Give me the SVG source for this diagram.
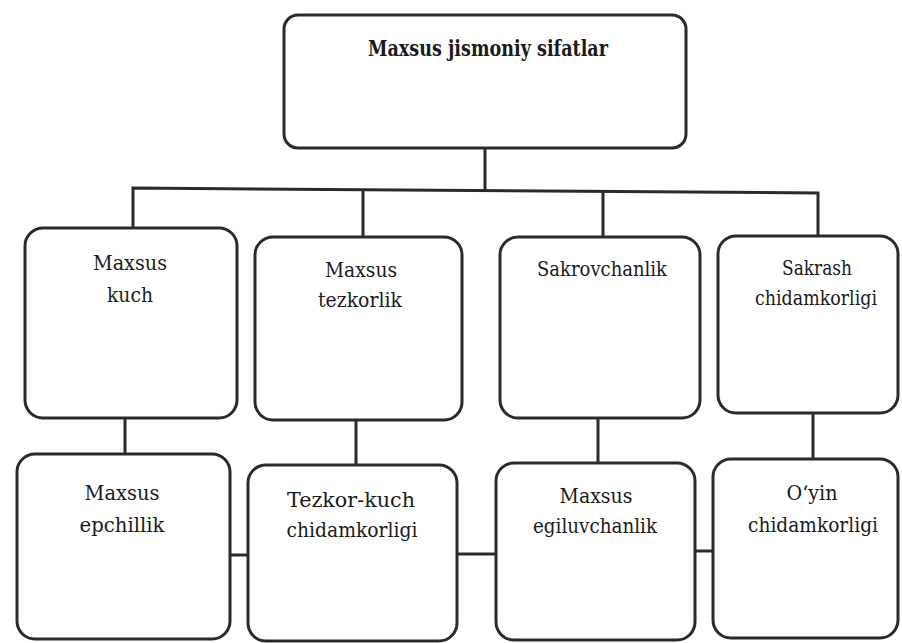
<svg xmlns="http://www.w3.org/2000/svg" width="902" height="643" viewBox="0 0 902 643">
<style>
.box{fill:#fff;stroke:#2a2a2a;stroke-width:3}
.ln{fill:none;stroke:#2a2a2a;stroke-width:3}
.tx{font-family:"DejaVu Serif","Liberation Serif",serif;font-size:21px;fill:#1a1a1a;text-anchor:middle}
.t{font-weight:bold;font-size:22px}
</style>
<rect width="902" height="643" fill="#fff"/>
<g id="connectors">
<path class="ln" d="M485 148 V191"/>
<path class="ln" d="M133 229 V188 L818 193 V236"/>
<path class="ln" d="M363 190 V237"/>
<path class="ln" d="M603 192 V237"/>
<path class="ln" d="M125 418 V455"/>
<path class="ln" d="M356 420 V465"/>
<path class="ln" d="M598 418 V463"/>
<path class="ln" d="M813 412 V459"/>
<path class="ln" d="M230 555 H249"/>
<path class="ln" d="M456 554 H496"/>
<path class="ln" d="M695 551 H713"/>
</g>
<g class="tx">
<g id="n0">
<rect class="box" x="284" y="15" width="402" height="133" rx="14"/>
<text class="t" x="488" y="56" textLength="240" lengthAdjust="spacingAndGlyphs">Maxsus jismoniy sifatlar</text>
</g>
<g id="n1">
<rect class="box" x="25" y="228" width="212" height="190" rx="18"/>
<text x="130" y="270" textLength="74" lengthAdjust="spacingAndGlyphs">Maxsus</text>
<text x="130" y="302" textLength="46" lengthAdjust="spacingAndGlyphs">kuch</text>
</g>
<g id="n2">
<rect class="box" x="255" y="237" width="207" height="183" rx="18"/>
<text x="361" y="277" textLength="72" lengthAdjust="spacingAndGlyphs">Maxsus</text>
<text x="360" y="307" textLength="84" lengthAdjust="spacingAndGlyphs">tezkorlik</text>
</g>
<g id="n3">
<rect class="box" x="500" y="237" width="200" height="181" rx="18"/>
<text x="602" y="276" textLength="130" lengthAdjust="spacingAndGlyphs">Sakrovchanlik</text>
</g>
<g id="n4">
<rect class="box" x="718" y="236" width="180" height="177" rx="18"/>
<text x="817" y="275" textLength="70" lengthAdjust="spacingAndGlyphs">Sakrash</text>
<text x="816" y="305" textLength="122" lengthAdjust="spacingAndGlyphs">chidamkorligi</text>
</g>
<g id="n5">
<rect class="box" x="17" y="454" width="213" height="185" rx="18"/>
<text x="122" y="500" textLength="75" lengthAdjust="spacingAndGlyphs">Maxsus</text>
<text x="122" y="532" textLength="85" lengthAdjust="spacingAndGlyphs">epchillik</text>
</g>
<g id="n6">
<rect class="box" x="248" y="465" width="209" height="176" rx="18"/>
<text x="351" y="507" textLength="128" lengthAdjust="spacingAndGlyphs">Tezkor-kuch</text>
<text x="352" y="537" textLength="131" lengthAdjust="spacingAndGlyphs">chidamkorligi</text>
</g>
<g id="n7">
<rect class="box" x="496" y="463" width="199" height="177" rx="18"/>
<text x="596" y="503" textLength="73" lengthAdjust="spacingAndGlyphs">Maxsus</text>
<text x="595" y="533" textLength="124" lengthAdjust="spacingAndGlyphs">egiluvchanlik</text>
</g>
<g id="n8">
<rect class="box" x="713" y="459" width="185" height="179" rx="18"/>
<text x="812" y="500" textLength="51" lengthAdjust="spacingAndGlyphs">O‘yin</text>
<text x="813" y="532" textLength="130" lengthAdjust="spacingAndGlyphs">chidamkorligi</text>
</g>
</g>
</svg>
